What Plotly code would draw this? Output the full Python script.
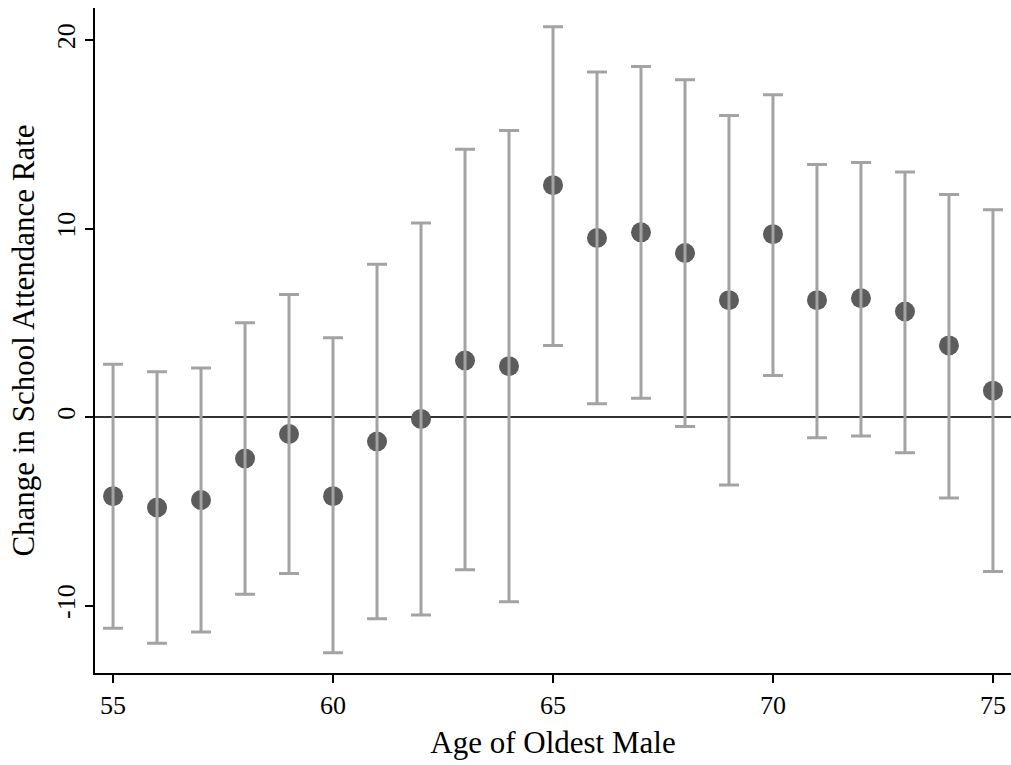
import plotly.graph_objects as go

ages = list(range(55, 76))
estimate = [-4.2, -4.8, -4.4, -2.2, -0.9, -4.2, -1.3, -0.1, 3.0, 2.7, 12.3,
            9.5, 9.8, 8.7, 6.2, 9.7, 6.2, 6.3, 5.6, 3.8, 1.4]
upper = [2.8, 2.4, 2.6, 5.0, 6.5, 4.2, 8.1, 10.3, 14.2, 15.2, 20.7,
         18.3, 18.6, 17.9, 16.0, 17.1, 13.4, 13.5, 13.0, 11.8, 11.0]
lower = [-11.2, -12.0, -11.4, -9.4, -8.3, -12.5, -10.7, -10.5, -8.1, -9.8, 3.8,
         0.7, 1.0, -0.5, -3.6, 2.2, -1.1, -1.0, -1.9, -4.3, -8.2]
x_ticks = [55, 60, 65, 70, 75]
y_ticks = [-10, 0, 10, 20]
y_ticklabels = ["-10", "0", "10", "20"]

err_plus = [u - e for u, e in zip(upper, estimate)]
err_minus = [e - l for e, l in zip(estimate, lower)]

fig = go.Figure()
fig.add_trace(go.Scatter(
    x=ages, y=estimate, mode="markers",
    marker=dict(size=20, color="#5c5c5c"),
    showlegend=False, hoverinfo="skip",
))
fig.add_trace(go.Scatter(
    x=ages, y=estimate, mode="markers",
    marker=dict(size=1, color="rgba(0,0,0,0)"),
    error_y=dict(type="data", symmetric=False, array=err_plus, arrayminus=err_minus,
                 color="#a3a3a3", thickness=3, width=10),
    showlegend=False, hoverinfo="skip",
))

font = "Liberation Serif, Times New Roman, serif"
fig.update_layout(
    width=1011, height=765,
    margin=dict(l=95, r=0, t=8, b=92),
    paper_bgcolor="white", plot_bgcolor="white",
    font=dict(family=font, color="black"),
    xaxis=dict(
        range=[54.59, 75.41], tickvals=x_ticks,
        ticks="outside", ticklen=8, tickwidth=2, tickcolor="black",
        showline=True, linecolor="black", linewidth=2,
        showgrid=False, zeroline=False, automargin=False,
        tickfont=dict(size=26, family=font),
        title=dict(text="Age of Oldest Male", font=dict(size=31, family=font), standoff=12),
    ),
    yaxis=dict(
        range=[-13.58, 21.7], tickvals=y_ticks, ticktext=y_ticklabels,
        ticks="outside", ticklen=8, tickwidth=2, tickcolor="black",
        showline=True, linecolor="black", linewidth=2,
        showgrid=False, zeroline=True, zerolinecolor="#333333", zerolinewidth=2,
        tickangle=-90, automargin=False,
        tickfont=dict(size=26, family=font),
        title=dict(text="Change in School Attendance Rate", font=dict(size=31, family=font), standoff=8),
    ),
)

fig.write_html("out.html", config={"displayModeBar": False},
               post_script="document.body.style.margin='0px';")
